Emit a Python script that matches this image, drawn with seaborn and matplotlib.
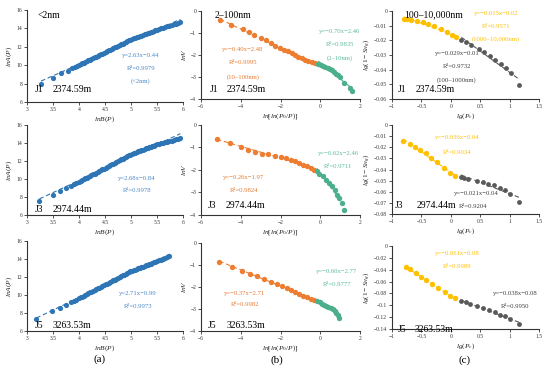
import matplotlib
matplotlib.use("Agg")
import matplotlib.pyplot as plt
import seaborn as sns
import numpy as np
from matplotlib.ticker import FuncFormatter, MultipleLocator

sns.set_style("ticks")
plt.rcParams['font.family'] = ['Liberation Serif', 'DejaVu Serif']
plt.rcParams['mathtext.fontset'] = 'custom'
plt.rcParams['mathtext.rm'] = 'Liberation Serif'
plt.rcParams['mathtext.it'] = 'Liberation Serif:italic'

# ---------------- data: column (a) ----------------
a_body_x = [4.00, 4.03, 4.06, 4.09, 4.12, 4.15, 4.18, 4.21, 4.24, 4.27, 4.30, 4.33, 4.36, 4.39,
            4.42, 4.45, 4.48, 4.51, 4.54, 4.57, 4.60, 4.63, 4.66, 4.69, 4.72, 4.75, 4.78, 4.81,
            4.84, 4.87, 4.90, 4.93, 4.96, 4.99, 5.02, 5.05, 5.08, 5.11, 5.14, 5.17, 5.20, 5.23,
            5.26, 5.29, 5.32, 5.35, 5.38, 5.41, 5.44, 5.47, 5.50]
a1_head_x = [3.27, 3.50, 3.66, 3.78, 3.87, 3.93, 3.97]
a1_head_y = [8.00, 8.65, 9.10, 9.42, 9.66, 9.82, 9.93]
a1_body_y = [10.02, 10.10, 10.19, 10.27, 10.35, 10.44, 10.52, 10.60, 10.69, 10.77, 10.85, 10.94,
             11.02, 11.10, 11.19, 11.27, 11.35, 11.44, 11.52, 11.60, 11.69, 11.77, 11.85, 11.94,
             12.02, 12.10, 12.19, 12.27, 12.35, 12.44, 12.52, 12.61, 12.69, 12.77, 12.84, 12.91,
             12.97, 13.03, 13.09, 13.15, 13.22, 13.28, 13.34, 13.41, 13.47, 13.53, 13.60, 13.66,
             13.72, 13.79, 13.85]
a1_tail_x = [5.54, 5.58, 5.62, 5.66, 5.70, 5.74, 5.78, 5.82, 5.86, 5.90, 5.95]
a1_tail_y = [13.92, 13.99, 14.07, 14.14, 14.21, 14.28, 14.36, 14.43, 14.50, 14.57, 14.65]

a2_head_x = [3.24, 3.50, 3.64, 3.75, 3.84, 3.90, 3.95]
a2_head_y = [7.56, 8.25, 8.63, 8.95, 9.22, 9.40, 9.55]
a2_body_y = [9.70, 9.79, 9.88, 9.97, 10.07, 10.16, 10.25, 10.34, 10.43, 10.52, 10.61, 10.71,
             10.80, 10.89, 10.98, 11.07, 11.16, 11.25, 11.35, 11.44, 11.53, 11.62, 11.71, 11.80,
             11.90, 11.99, 12.08, 12.17, 12.26, 12.35, 12.45, 12.54, 12.63, 12.72, 12.79, 12.86,
             12.92, 12.99, 13.06, 13.12, 13.19, 13.25, 13.32, 13.39, 13.45, 13.52, 13.59, 13.65,
             13.72, 13.78, 13.85]
a2_tail_x = [5.54, 5.58, 5.62, 5.66, 5.70, 5.74, 5.78, 5.82, 5.86, 5.90, 5.95]
a2_tail_y = [13.91, 13.97, 14.03, 14.09, 14.15, 14.21, 14.27, 14.33, 14.39, 14.45, 14.52]

a3_head_x = [3.18, 3.49, 3.63, 3.75, 3.84, 3.90, 3.95]
a3_head_y = [7.30, 8.19, 8.56, 8.90, 9.17, 9.35, 9.50]
a3_body_y = [9.65, 9.74, 9.83, 9.92, 10.01, 10.10, 10.19, 10.28, 10.37, 10.46, 10.55, 10.64,
             10.73, 10.82, 10.91, 11.00, 11.09, 11.18, 11.27, 11.36, 11.45, 11.54, 11.63, 11.72,
             11.81, 11.90, 11.99, 12.08, 12.17, 12.26, 12.35, 12.44, 12.53, 12.62, 12.69, 12.76,
             12.83, 12.89, 12.96, 13.02, 13.09, 13.16, 13.22, 13.29, 13.35, 13.42, 13.49, 13.55,
             13.62, 13.68, 13.75]
a3_tail_x = [5.54, 5.58, 5.62, 5.66, 5.70, 5.74]
a3_tail_y = [13.84, 13.93, 14.02, 14.12, 14.22, 14.32]

# ---------------- data: column (b) ----------------
b1_or_x = [-5.04, -4.51, -3.90, -3.58, -3.33, -3.00, -2.73, -2.49, -2.28, -2.02, -1.82, -1.60,
           -1.44, -1.27, -1.10, -0.93, -0.77, -0.60, -0.43, -0.26]
b1_or_y = [-0.41, -0.63, -0.83, -0.97, -1.09, -1.24, -1.34, -1.45, -1.57, -1.66, -1.76, -1.84,
           -1.92, -1.99, -2.07, -2.14, -2.22, -2.28, -2.34, -2.38]
b1_gr_x = [-0.10, 0.02, 0.14, 0.26, 0.38, 0.50, 0.60, 0.70, 0.80, 0.90, 1.00, 1.22, 1.50, 1.60]
b1_gr_y = [-2.42, -2.45, -2.49, -2.53, -2.58, -2.64, -2.70, -2.77, -2.85, -2.93, -3.02, -3.28,
           -3.52, -3.65]

b2_or_x = [-5.20, -4.54, -3.99, -3.62, -3.28, -2.95, -2.61, -2.28, -1.99, -1.73, -1.49, -1.27,
           -1.06, -0.85, -0.65, -0.48, -0.32]
b2_or_y = [-0.63, -0.78, -0.97, -1.09, -1.19, -1.27, -1.31, -1.37, -1.42, -1.46, -1.54, -1.60,
           -1.69, -1.76, -1.84, -1.90, -1.99]
b2_gr_x = [-0.18, -0.05, 0.12, 0.29, 0.45, 0.61, 0.74, 0.86, 0.96, 1.08, 1.20]
b2_gr_y = [-2.04, -2.16, -2.28, -2.43, -2.58, -2.73, -2.91, -3.09, -3.25, -3.48, -3.78]

b3_or_x = [-5.08, -4.46, -3.95, -3.53, -3.16, -2.83, -2.49, -2.19, -1.94, -1.69, -1.47, -1.27,
           -1.07, -0.89, -0.68, -0.49, -0.32]
b3_or_y = [-0.85, -1.07, -1.27, -1.40, -1.52, -1.64, -1.75, -1.85, -1.94, -2.04, -2.13, -2.22,
           -2.31, -2.39, -2.46, -2.54, -2.61]
b3_gr_x = [-0.15, -0.03, 0.08, 0.19, 0.30, 0.41, 0.52, 0.62, 0.72, 0.81, 0.89, 0.96]
b3_gr_y = [-2.64, -2.70, -2.75, -2.80, -2.85, -2.90, -2.95, -3.01, -3.08, -3.16, -3.26, -3.42]

# ---------------- data: column (c) ----------------
c1_ye_x = [-0.80, -0.75, -0.68, -0.58, -0.48, -0.38, -0.28, -0.17, -0.07, 0.02, 0.08]
c1_ye_y = [-0.0053, -0.0056, -0.0061, -0.0068, -0.0077, -0.0088, -0.0103, -0.0124, -0.0144,
           -0.0163, -0.0178]
c1_gy_x = [0.18, 0.26, 0.35, 0.48, 0.56, 0.66, 0.76, 0.86, 0.94, 1.03, 1.16]
c1_gy_y = [-0.0198, -0.0212, -0.0232, -0.0262, -0.0282, -0.0305, -0.0332, -0.0362, -0.0390,
           -0.0425, -0.0505]

c2_ye_x = [-0.81, -0.70, -0.61, -0.52, -0.43, -0.33, -0.24, -0.12, -0.02, 0.07]
c2_ye_y = [-0.0143, -0.0170, -0.0194, -0.0224, -0.0254, -0.0293, -0.0337, -0.0388, -0.0427,
           -0.0454]
c2_gy_x = [0.17, 0.23, 0.30, 0.44, 0.54, 0.64, 0.74, 0.84, 0.92, 1.01, 1.16]
c2_gy_y = [-0.0463, -0.0475, -0.0484, -0.0499, -0.0513, -0.0528, -0.0543, -0.0567, -0.0588,
           -0.0618, -0.0696]

c3_ye_x = [-0.76, -0.70, -0.60, -0.50, -0.42, -0.32, -0.22, -0.10, -0.02, 0.07]
c3_ye_y = [-0.0351, -0.0396, -0.0462, -0.0518, -0.0574, -0.0646, -0.0713, -0.0769, -0.0836,
           -0.0880]
c3_gy_x = [0.17, 0.25, 0.32, 0.44, 0.55, 0.65, 0.75, 0.84, 0.92, 1.01, 1.16]
c3_gy_y = [-0.0925, -0.0953, -0.0975, -0.1020, -0.1053, -0.1087, -0.1120, -0.1159, -0.1187,
           -0.1231, -0.1309]

wells = ["J1", "J3", "J5"]
depths = ["2374.59m", "2974.44m", "3263.53m"]

# ---------------- style ----------------
BLUE = "#2E75B6"; BLUE_T = "#4A86C5"
ORANGE = "#ED7D31"; ORANGE_T = "#E8772E"
GREEN = "#4BAF8C"; GREEN_T = "#5BB99A"
YELLOW = "#FFC000"; YELLOW_T = "#FFC000"
GRAY = "#595959"; GRAY_T = "#404040"

W, H = 550, 370
fig = plt.figure(figsize=(5.5, 3.7), dpi=100)
fig.patch.set_facecolor("white")


def add_ax(x0, x1, yt, yb):
    return fig.add_axes([x0 / W, 1 - yb / H, (x1 - x0) / W, (yb - yt) / H])


def fmt(v, p):
    s = "%g" % round(v, 6)
    if s == "-0":
        s = "0"
    return s.replace("-", "\u2212")


def style(ax, xlim, ylim, xstep, ystep, xlabel, ylabel):
    ax.set_xlim(*xlim)
    ax.set_ylim(*ylim)
    ax.xaxis.set_major_locator(MultipleLocator(xstep))
    ax.yaxis.set_major_locator(MultipleLocator(ystep))
    ax.xaxis.set_major_formatter(FuncFormatter(fmt))
    ax.yaxis.set_major_formatter(FuncFormatter(fmt))
    for s in ["top", "right"]:
        ax.spines[s].set_visible(False)
    for s in ["left", "bottom"]:
        ax.spines[s].set_linewidth(0.8)
        ax.spines[s].set_color("#333333")
    ax.tick_params(direction="out", length=2, width=0.6, labelsize=4.1, pad=1.5,
                   colors="#333333")
    ax.set_xlabel(xlabel, fontsize=5.3, labelpad=1.5, color="#222222")
    ax.set_ylabel(ylabel, fontsize=5.3, labelpad=1.5, color="#222222")
    ax.set_facecolor("white")


def series(ax, x, y, color, s):
    x = np.asarray(x, dtype=float)
    y = np.asarray(y, dtype=float)
    sns.regplot(x=x, y=y, ax=ax, scatter=False, ci=None, color=color,
                line_kws=dict(ls=(0, (4, 2.5)), lw=0.8))
    sns.scatterplot(x=x, y=y, ax=ax, color=color, s=s, linewidth=0, clip_on=False, zorder=3)


def ftext(x, y, s, color="black", size=4.8, ha="center"):
    fig.text(x / W, 1 - y / H, s, color=color, fontsize=size, ha=ha, va="center")


# ---------------- column (a) ----------------
a_rows = [(10, 102), (125, 215), (241, 331)]
a_x = [a1_head_x + a_body_x + a1_tail_x, a2_head_x + a_body_x + a2_tail_x,
       a3_head_x + a_body_x + a3_tail_x]
a_y = [a1_head_y + a1_body_y + a1_tail_y, a2_head_y + a2_body_y + a2_tail_y,
       a3_head_y + a3_body_y + a3_tail_y]
for i, (yt, yb) in enumerate(a_rows):
    ax = add_ax(27, 183, yt, yb)
    series(ax, a_x[i], a_y[i], BLUE, 14)
    style(ax, (3, 6), (6, 16), 0.5, 2, r"$lnB(P)$", r"$lnA(P)$")

# ---------------- column (b) ----------------
b_rows = [(11, 99), (125, 215), (243, 331)]
b_or = [(b1_or_x, b1_or_y), (b2_or_x, b2_or_y), (b3_or_x, b3_or_y)]
b_gr = [(b1_gr_x, b1_gr_y), (b2_gr_x, b2_gr_y), (b3_gr_x, b3_gr_y)]
for i, (yt, yb) in enumerate(b_rows):
    ax = add_ax(201, 360, yt, yb)
    series(ax, b_or[i][0], b_or[i][1], ORANGE, 15)
    series(ax, b_gr[i][0], b_gr[i][1], GREEN, 15)
    style(ax, (-6, 2), (-4, 0), 2, 1, r"$ln[ln(P_0/P)]$", r"$lnV$")

# ---------------- column (c) ----------------
c_rows = [(11, 99), (125, 214), (246, 329)]
c_ylims = [(-0.06, 0), (-0.08, 0), (-0.14, 0)]
c_ysteps = [0.01, 0.01, 0.02]
c_ye = [(c1_ye_x, c1_ye_y), (c2_ye_x, c2_ye_y), (c3_ye_x, c3_ye_y)]
c_gy = [(c1_gy_x, c1_gy_y), (c2_gy_x, c2_gy_y), (c3_gy_x, c3_gy_y)]
for i, (yt, yb) in enumerate(c_rows):
    ax = add_ax(392, 539, yt, yb)
    series(ax, c_ye[i][0], c_ye[i][1], YELLOW, 15)
    series(ax, c_gy[i][0], c_gy[i][1], GRAY, 12)
    style(ax, (-1, 1.5), c_ylims[i], 0.5, c_ysteps[i], r"$lg(P_c)$", r"$lg(1-S_{Hg})$")

# ---------------- annotations ----------------
ftext(38, 15, "<2nm", size=7, ha="left")
ftext(215, 15, "2\u2013100nm", size=7, ha="left")
ftext(404, 15, "100\u201310,000nm", size=7, ha="left")

j_pos = {
    "a": [(35, 53, 90), (35, 53, 209), (35, 53, 325)],
    "b": [(210, 227, 90), (208, 226, 206), (208, 227, 325)],
    "c": [(398, 416, 90), (395, 417, 206), (398, 415, 330)],
}
for col in "abc":
    for i, (xj, xd, yy) in enumerate(j_pos[col]):
        ftext(xj, yy, wells[i], size=7, ha="left")
        ftext(xd, yy, depths[i], size=7, ha="left")

M = "\u2212"
# column a equations
ftext(141, 56, "y=2.63x" + M + "0.44", BLUE_T)
ftext(141, 69, "R\u00b2=0.9979", BLUE_T)
ftext(141, 81, "(<2nm)", BLUE_T)
ftext(137, 179, "y=2.68x" + M + "0.84", BLUE_T)
ftext(137, 191, "R\u00b2=0.9978", BLUE_T)
ftext(138, 293, "y=2.71x" + M + "0.99", BLUE_T)
ftext(138, 306, "R\u00b2=0.9973", BLUE_T)

# column b equations
ftext(243, 50, "y=" + M + "0.40x" + M + "2.48", ORANGE_T)
ftext(243, 63, "R\u00b2=0.9995", ORANGE_T)
ftext(243, 77, "(10\u2013100nm)", ORANGE_T)
ftext(340, 32, "y=" + M + "0.70x" + M + "2.46", GREEN_T)
ftext(340, 45, "R\u00b2=0.9835", GREEN_T)
ftext(340, 58, "(2\u201310nm)", GREEN_T)

ftext(338, 153, "y=" + M + "0.62x" + M + "2.46", GREEN_T)
ftext(338, 166, "R\u00b2=0.9711", GREEN_T)
ftext(244, 178, "y=" + M + "0.26x" + M + "1.97", ORANGE_T)
ftext(244, 191, "R\u00b2=0.9824", ORANGE_T)

ftext(337, 272, "y=" + M + "0.60x" + M + "2.77", GREEN_T)
ftext(337, 285, "R\u00b2=0.9777", GREEN_T)
ftext(245, 293, "y=" + M + "0.37x" + M + "2.71", ORANGE_T)
ftext(245, 305, "R\u00b2=0.9982", ORANGE_T)

# column c equations
ftext(496, 14, "y=" + M + "0.015x" + M + "0.02", YELLOW_T)
ftext(496, 27, "R\u00b2=0.9571", YELLOW_T)
ftext(496, 39, "(1000\u201310,000nm)", YELLOW_T)
ftext(457, 53, "y=" + M + "0.029x" + M + "0.01", GRAY_T)
ftext(457, 66, "R\u00b2=0.9732", GRAY_T)
ftext(457, 80, "(100\u20131000nm)", GRAY_T)

ftext(457, 138, "y=" + M + "0.036x" + M + "0.04", YELLOW_T)
ftext(457, 152, "R\u00b2=0.9034", YELLOW_T)
ftext(476, 194, "y=" + M + "0.021x" + M + "0.04", GRAY_T)
ftext(473, 206, "R\u00b2=0.9204", GRAY_T)

ftext(457, 254, "y=" + M + "0.061x" + M + "0.08", YELLOW_T)
ftext(457, 267, "R\u00b2=0.9989", YELLOW_T)
ftext(515, 293, "y=" + M + "0.038x" + M + "0.08", GRAY_T)
ftext(515, 306, "R\u00b2=0.9950", GRAY_T)

# panel labels
ftext(100, 359, "(a)", size=8)
ftext(277, 360, "(b)", size=8)
ftext(465, 360, "(c)", size=8)

fig.savefig("out.png", dpi=100, facecolor="white")
